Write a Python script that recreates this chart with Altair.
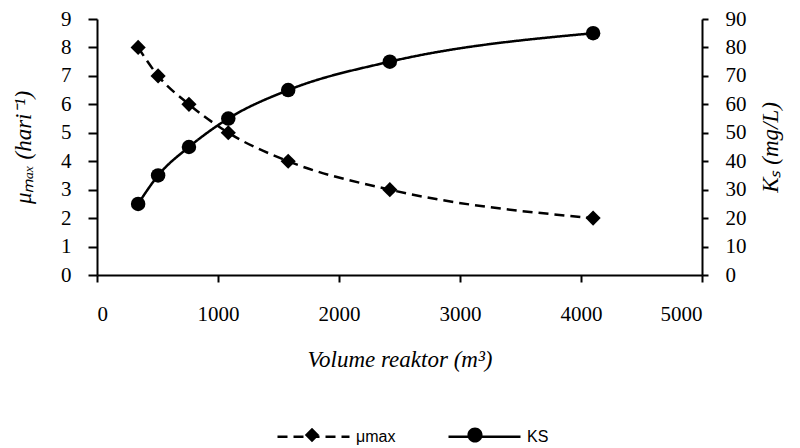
import altair as alt
import pandas as pd

# ---- data ----
volume = [340, 505, 760, 1085, 1580, 2420, 4100]
mu_max = [8, 7, 6, 5, 4, 3, 2]
ks = [25, 35, 45, 55, 65, 75, 85]
series_names = ["μmax", "KS"]
x_ticks = [0, 1000, 2000, 3000, 4000, 5000]
left_ticks = list(range(0, 10))
right_ticks = list(range(0, 100, 10))

n = len(volume)
df = pd.DataFrame({
    "volume": volume + volume,
    "value": mu_max + ks,
    "series": [series_names[0]] * n + [series_names[1]] * n,
})
marker_names = [s + " " for s in series_names]
df["marker"] = [marker_names[0]] * n + [marker_names[1]] * n

SERIF = "Liberation Serif"
LBL = 21
TTL = 23

x_enc = alt.X(
    "volume:Q",
    scale=alt.Scale(domain=[0, 5000], nice=False),
    axis=alt.Axis(
        values=x_ticks, format="d", title="Volume reaktor (m³)", grid=False,
        labelFont=SERIF, labelFontSize=LBL, labelColor="black", labelPadding=21,
        titleFont=SERIF, titleFontSize=TTL, titleFontStyle="italic", titleFontWeight="normal",
        titleColor="black", titlePadding=24,
        tickSize=7, tickWidth=2, tickColor="black", domainColor="black", domainWidth=2,
    ),
)

left_y = alt.Y(
    "value:Q",
    scale=alt.Scale(domain=[0, 9], nice=False),
    axis=alt.Axis(
        values=left_ticks, title="μₘₐₓ (hari⁻¹)", grid=False, orient="left",
        labelFont=SERIF, labelFontSize=LBL, labelColor="black", labelPadding=17,
        labelOverlap=False,
        titleFont=SERIF, titleFontSize=TTL, titleFontStyle="italic", titleFontWeight="normal",
        titleColor="black", titlePadding=25,
        tickSize=9, tickWidth=2, tickColor="black", domainColor="black", domainWidth=2,
    ),
)
right_y = alt.Y(
    "value:Q",
    scale=alt.Scale(domain=[0, 90], nice=False),
    axis=alt.Axis(
        values=right_ticks, title="Kₛ (mg/L)", grid=False, orient="right",
        labelFont=SERIF, labelFontSize=LBL, labelColor="black", labelPadding=17,
        labelOverlap=False,
        titleFont=SERIF, titleFontSize=TTL, titleFontStyle="italic", titleFontWeight="normal",
        titleColor="black", titlePadding=36, titleAngle=270,
        tickSize=6, tickWidth=2, tickColor="black", domainColor="black", domainWidth=2,
    ),
)

# legend markers: small shapes centred in a [-1,1] box (the zero-area segment keeps the box width)
diamond_path = "M-1,0L1,0M0,-0.2L0.2,0L0,0.2L-0.2,0Z"
circle_path = "M-1,0L1,0M-0.21,0A0.21,0.21,0,1,0,0.21,0A0.21,0.21,0,1,0,-0.21,0Z"

LEG_X, LEG_Y = 179, 380
common_legend = dict(
    orient="none", legendX=LEG_X, legendY=LEG_Y, direction="horizontal", title=None,
    symbolSize=5184, labelFont="Liberation Sans", labelFontSize=16,
    labelColor="black", labelOffset=5,
)
line_legend = alt.Legend(symbolType="stroke", symbolStrokeWidth=2.5,
                         symbolStrokeColor="black", columnPadding=47, **common_legend)
marker_legend = alt.Legend(symbolFillColor="black", symbolStrokeWidth=0,
                           symbolOpacity=1, labelExpr="''", columnPadding=86, **common_legend)

dash_scale = alt.Scale(domain=series_names, range=[[10, 6], [1, 0]])
shape_scale = alt.Scale(domain=marker_names, range=[diamond_path, circle_path])

base = alt.Chart(df)
mu_data = base.transform_filter(alt.datum.series == series_names[0])
ks_data = base.transform_filter(alt.datum.series == series_names[1])

dash_enc = alt.StrokeDash("series:N", scale=dash_scale, legend=line_legend)

mu_line = mu_data.mark_line(color="black", strokeWidth=2.5,
                            interpolate="monotone").encode(x=x_enc, y=left_y, strokeDash=dash_enc)
mu_pts = mu_data.mark_point(shape="diamond", filled=True, color="black", size=230,
                            opacity=1).encode(x=x_enc, y=left_y)
# invisible layer only used to produce the legend markers
legend_layer = mu_data.mark_point(filled=True, color="black", opacity=0).encode(
    x=x_enc, y=left_y,
    shape=alt.Shape("marker:N", scale=shape_scale, legend=marker_legend),
)
ks_line = ks_data.mark_line(color="black", strokeWidth=2.5,
                            interpolate="monotone").encode(x=x_enc, y=right_y, strokeDash=dash_enc)
ks_pts = ks_data.mark_point(shape="circle", filled=True, color="black", size=210,
                            opacity=1).encode(x=x_enc, y=right_y)

left = alt.layer(mu_line, mu_pts, legend_layer)
right = alt.layer(ks_line, ks_pts)

chart = alt.layer(left, right).resolve_scale(y="independent").properties(
    width=605, height=256,
    autosize=alt.AutoSizeParams(type="none"),
    padding={"left": 89, "top": 11, "right": 90, "bottom": 173},
    background="white",
).configure_view(stroke=None)

chart.save("out.html", embed_options={"renderer": "svg", "actions": False})
